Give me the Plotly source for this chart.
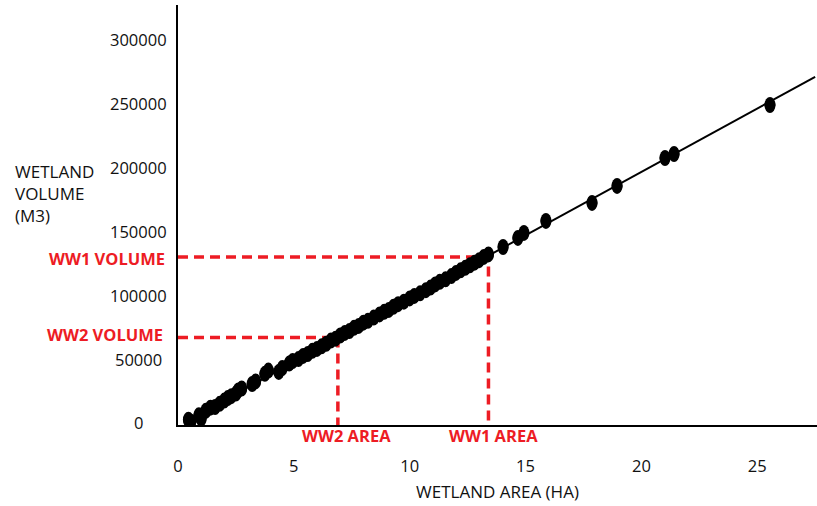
import plotly.graph_objects as go

# Surveyed wetlands: surface area (ha) and stored volume (m3)
area_ha = [
    0.45, 0.55, 0.90, 1.00, 1.20, 1.40, 1.60, 1.80, 2.00, 2.15,
    2.30, 2.50, 2.60, 2.75, 3.20, 3.35, 3.75, 3.90, 4.35, 4.50,
    4.80, 4.95, 5.20, 5.40, 5.60, 5.80, 6.00, 6.20, 6.40, 6.60,
    6.80, 7.00, 7.20, 7.40, 7.60, 7.80, 8.00, 8.20, 8.45, 8.70,
    8.90, 9.10, 9.30, 9.50, 9.75, 10.00, 10.20, 10.45, 10.70, 10.90,
    11.10, 11.30, 11.55, 11.80, 12.00, 12.20, 12.40, 12.60, 12.80, 13.00,
    13.20, 13.40, 14.03, 14.67, 14.93, 15.88, 17.87, 18.95, 21.02, 21.41,
    25.55,
]
volume_m3 = [
    2500, 1000, 6000, 3500, 9500, 12000, 12500, 15000, 17500, 19500,
    21000, 23000, 25500, 27000, 30500, 32500, 38500, 41000, 40000, 43000,
    46500, 48500, 50000, 52500, 54000, 56500, 58000, 60000, 62000, 64500,
    66000, 68500, 70500, 72000, 74500, 76000, 78500, 80000, 82500, 85000,
    87000, 88500, 91000, 93000, 95000, 97500, 99500, 101500, 104000, 106000,
    108500, 110500, 112500, 115000, 117500, 119500, 121500, 123500, 125500, 127500,
    130000, 132000, 137800, 144900, 148800, 158200, 172300, 185600, 207500, 210600,
    249000,
]

# Fitted area-volume relation (end points of the line)
trend_area = [0.4, 27.5]
trend_volume = [2000, 271000]

# Reference wetlands
ww1_area, ww1_volume = 13.4, 130000
ww2_area, ww2_volume = 6.9, 67000

x_ticks = [0, 5, 10, 15, 20, 25]
y_ticks = [0, 50000, 100000, 150000, 200000, 250000, 300000]

X_RANGE = [0, 27.58]
Y_RANGE = [-1600, 327300]

RED = "#ED1C24"
FONT = "Open Sans"
TICK_SIZE = 16.5
LABEL_SIZE = 16.5

fig = go.Figure()

# trend line
fig.add_trace(go.Scatter(
    x=trend_area, y=trend_volume, mode="lines",
    line=dict(color="black", width=2), hoverinfo="skip", showlegend=False,
))

# guide lines for WW1 / WW2
for a, v in [(ww1_area, ww1_volume), (ww2_area, ww2_volume)]:
    fig.add_trace(go.Scatter(
        x=[X_RANGE[0], a, a], y=[v, v, Y_RANGE[0]], mode="lines",
        line=dict(color=RED, width=3.5, dash="10px,6px"),
        hoverinfo="skip", showlegend=False,
    ))

# wetland points
fig.add_trace(go.Scatter(
    x=area_ha, y=volume_m3, mode="markers",
    marker=dict(color="black", size=11, line=dict(width=0)),
    showlegend=False,
))

# elliptical point outlines (taller than wide)
shapes = []
for a, v in zip(area_ha, volume_m3):
    shapes.append(dict(
        type="circle", xref="x", yref="y",
        xsizemode="pixel", ysizemode="pixel",
        xanchor=a, yanchor=v, x0=-5.5, x1=5.5, y0=-8, y1=8,
        fillcolor="black", line=dict(width=0),
    ))

annotations = []
# y tick labels, centred in the left margin
for t in y_ticks:
    annotations.append(dict(
        x=-40 / 639, xref="paper", y=t, yref="y", text=str(t),
        showarrow=False, xanchor="center", yanchor="middle",
        font=dict(family=FONT, size=TICK_SIZE, color="#111"),
    ))

# y axis title
annotations.append(dict(
    x=-165 / 639, xref="paper", y=(425 - 194) / 420, yref="paper",
    text="WETLAND<br>VOLUME<br>(M3)", align="left",
    showarrow=False, xanchor="left", yanchor="middle",
    font=dict(family=FONT, size=17, color="#111"),
))

# red labels
annotations += [
    dict(x=-11 / 639, xref="paper", y=ww1_volume, yref="y", yshift=-2,
         text="WW1 VOLUME", showarrow=False, xanchor="right", yanchor="middle",
         font=dict(family=FONT, size=LABEL_SIZE, color=RED, weight="bold")),
    dict(x=-13 / 639, xref="paper", y=ww2_volume, yref="y", yshift=3,
         text="WW2 VOLUME", showarrow=False, xanchor="right", yanchor="middle",
         font=dict(family=FONT, size=LABEL_SIZE, color=RED, weight="bold")),
    dict(x=ww2_area, xref="x", xshift=9, y=-11 / 420, yref="paper",
         text="WW2 AREA", showarrow=False, xanchor="center", yanchor="middle",
         font=dict(family=FONT, size=LABEL_SIZE, color=RED, weight="bold")),
    dict(x=ww1_area, xref="x", xshift=5, y=-11 / 420, yref="paper",
         text="WW1 AREA", showarrow=False, xanchor="center", yanchor="middle",
         font=dict(family=FONT, size=LABEL_SIZE, color=RED, weight="bold")),
]

fig.update_layout(
    width=817, height=506,
    margin=dict(l=178, r=0, t=5, b=81),
    paper_bgcolor="white", plot_bgcolor="white",
    shapes=shapes, annotations=annotations,
    font=dict(family=FONT, color="#111"),
    xaxis=dict(
        range=X_RANGE, tickvals=x_ticks, ticktext=[str(t) for t in x_ticks],
        showgrid=False, zeroline=False, showline=True, linecolor="black",
        linewidth=2, ticks="", ticklabelstandoff=25,
        tickfont=dict(family=FONT, size=TICK_SIZE, color="#111"),
        title=dict(text="WETLAND AREA (HA)", standoff=10,
                   font=dict(family=FONT, size=17, color="#111")),
    ),
    yaxis=dict(
        range=Y_RANGE, tickvals=y_ticks, showticklabels=False,
        showgrid=False, zeroline=False, showline=True, linecolor="black",
        linewidth=2, ticks="",
    ),
)

fig.write_html("out.html")
